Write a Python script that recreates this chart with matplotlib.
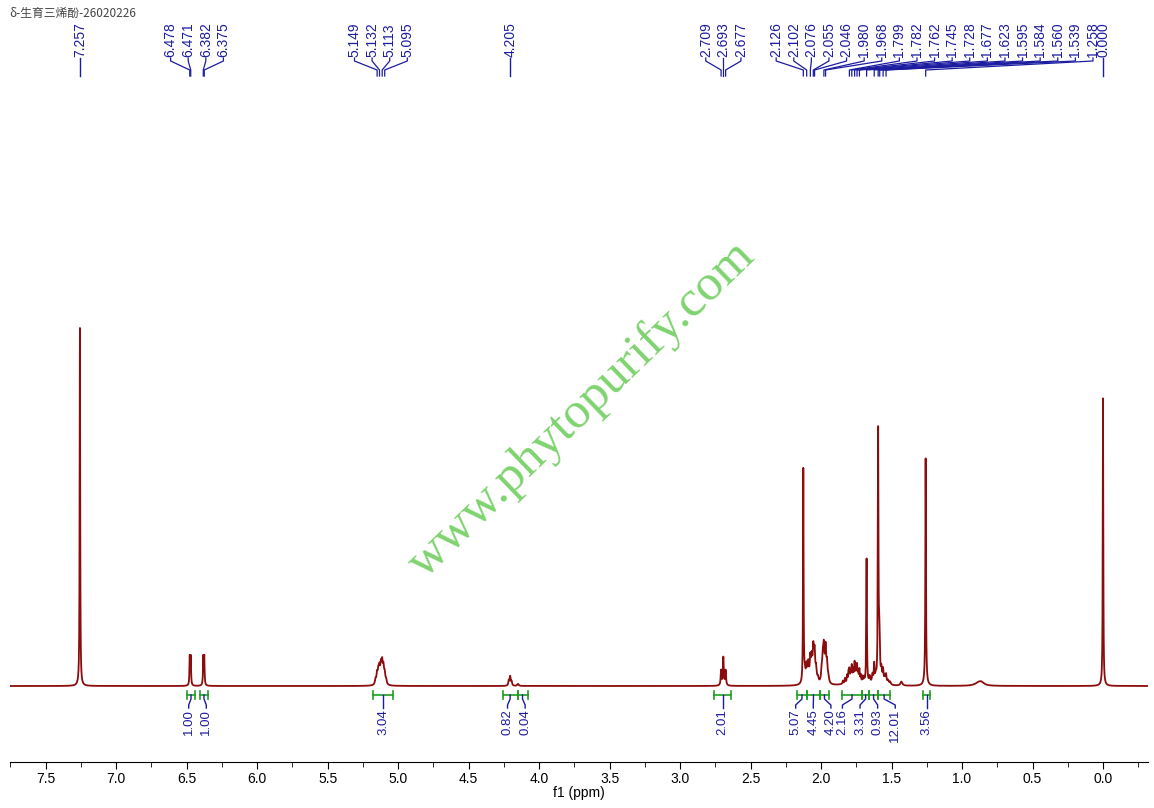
import numpy as np
import matplotlib
matplotlib.use('Agg')
import matplotlib.pyplot as plt
from matplotlib.ticker import MultipleLocator, FormatStrFormatter

plt.rcParams['font.family'] = ['Liberation Sans', 'DejaVu Sans']

# ---- spectrum lines: position (ppm), height, half width (ppm) ----
peak_ppm = [7.257,
            6.478, 6.471, 6.382, 6.375,
            5.160, 5.149, 5.140, 5.132, 5.122, 5.113, 5.104, 5.095, 5.085,
            4.215, 4.205, 4.195, 4.150,
            2.709, 2.693, 2.677,
            2.126,
            2.115, 2.102, 2.090, 2.076, 2.066, 2.055, 2.046, 2.035, 2.022,
            1.995, 1.987, 1.980, 1.968, 1.958, 1.948,
            1.845, 1.830, 1.815, 1.805, 1.799, 1.790, 1.782, 1.772, 1.762, 1.753,
            1.745, 1.737, 1.728, 1.718, 1.705, 1.695, 1.770,
            1.677,
            1.655, 1.635, 1.623, 1.612,
            1.595, 1.588, 1.584, 1.572, 1.560, 1.548, 1.539, 1.525, 1.510,
            1.430,
            1.258, 1.260,
            0.880, 0.860,
            0.000]
peak_height = [358,
               28, 28, 28, 28,
               5, 10, 12, 14, 17, 19, 15, 10, 4,
               5, 9, 4, 2,
               15, 28, 15,
               215,
               10, 16, 18, 23, 21, 31, 28, 13, 5,
               12, 21, 31, 33, 18, 6,
               3, 5, 7, 9, 11, 8, 14, 10, 17, 10,
               15, 9, 12, 7, 6, 5, 5,
               125,
               7, 9, 18, 7,
               250, 35, 28, 14, 13, 7, 9, 4, 3,
               4,
               225, 4,
               3.5, 2,
               290]
peak_hwhm = [0.0022,
             0.0025, 0.0025, 0.0025, 0.0025,
             0.005, 0.005, 0.005, 0.005, 0.005, 0.005, 0.005, 0.005, 0.005,
             0.004, 0.004, 0.004, 0.006,
             0.0035, 0.0035, 0.0035,
             0.0022,
             0.007, 0.005, 0.005, 0.005, 0.005, 0.005, 0.005, 0.005, 0.005,
             0.005, 0.005, 0.005, 0.005, 0.005, 0.005,
             0.003, 0.003, 0.003, 0.003, 0.003, 0.003, 0.003, 0.003, 0.003, 0.003,
             0.003, 0.003, 0.003, 0.003, 0.003, 0.003, 0.05,
             0.0025,
             0.005, 0.005, 0.003, 0.005,
             0.0025, 0.003, 0.003, 0.005, 0.004, 0.004, 0.004, 0.006, 0.006,
             0.008,
             0.0025, 0.01,
             0.03, 0.02,
             0.0022]

# ---- peak picking labels (top) ----
top_groups = [[7.257],
              [6.478, 6.471, 6.382, 6.375],
              [5.149, 5.132, 5.113, 5.095],
              [4.205],
              [2.709, 2.693, 2.677],
              [2.126, 2.102, 2.076, 2.055, 2.046, 1.980, 1.968, 1.799, 1.782,
               1.762, 1.745, 1.728, 1.677, 1.623, 1.595, 1.584, 1.560, 1.539, 1.258],
              [0.000]]

# ---- integrals ----
int_lo = [6.497, 6.405, 5.177, 4.258, 4.153, 2.760, 2.173, 2.098, 2.010, 1.852, 1.709, 1.659, 1.596, 1.276]
int_hi = [6.441, 6.349, 5.035, 4.153, 4.082, 2.637, 2.098, 2.010, 1.942, 1.709, 1.659, 1.596, 1.509, 1.226]
int_val = ['1.00', '1.00', '3.04', '0.82', '0.04', '2.01', '5.07', '4.45', '4.20', '2.16', '3.31', '0.93', '12.01', '3.56']

title = 'δ-生育三烯酚-26020226'
watermark = 'www.phytopurify.com'

W, H = 1154, 808
X_LEFT, X_RIGHT = 7.753, -0.319
AX_L, AX_R, AX_BOT = 10, 1148, 762      # pixel frame of the ppm axis
BASE = 686                               # pixel row of the baseline
SP = 17.6                                # label spacing in px

BLUE = '#1c1ca0'
GREEN = '#1e9e1e'
RED = '#8b0c0c'


def x_px(ppm):
    return AX_L + (X_LEFT - np.asarray(ppm)) / (X_LEFT - X_RIGHT) * (AX_R - AX_L)


fig = plt.figure(figsize=(W / 100, H / 100), dpi=100)
ax = fig.add_axes([AX_L / W, (H - AX_BOT) / H, (AX_R - AX_L) / W, AX_BOT / H])

x = np.arange(X_RIGHT, X_LEFT, 0.0004)
y = np.zeros_like(x)
for p, h, w in zip(peak_ppm, peak_height, peak_hwhm):
    y += h / (1 + ((x - p) / w) ** 2)
ax.plot(x, y, color=RED, lw=1.3)

ax.set_xlim(X_LEFT, X_RIGHT)
ax.set_ylim(-(AX_BOT - BASE), BASE)
for s in ['top', 'left', 'right']:
    ax.spines[s].set_visible(False)
ax.set_yticks([])
ax.xaxis.set_major_locator(MultipleLocator(0.5))
ax.xaxis.set_minor_locator(MultipleLocator(0.25))
ax.xaxis.set_major_formatter(FormatStrFormatter('%.1f'))
ax.tick_params(axis='x', which='major', length=5, labelsize=10, pad=2)
ax.tick_params(axis='x', which='minor', length=3.5)
ax.set_xlabel('f1 (ppm)', fontsize=10, labelpad=0)
ax.patch.set_alpha(0)

# overlay in pixel coordinates for annotations
ov = fig.add_axes([0, 0, 1, 1])
ov.set_xlim(0, W)
ov.set_ylim(H, 0)
ov.axis('off')
ov.patch.set_alpha(0)

ov.text(9, 13, title, fontsize=8.5, color='#444444', va='center', ha='left',
        family=['Noto Sans CJK SC', 'DejaVu Sans'])

# top peak labels
prev_last = -1e9
for grp in top_groups:
    px = x_px(grp)
    n = len(grp)
    if n == 1:
        lab = px.copy()
    else:
        start = px.mean() - (n - 1) / 2 * SP
        if start < prev_last + SP:
            start = prev_last + 2 * SP
        lab = start + np.arange(n) * SP
    prev_last = lab[-1]
    for p, lx, v in zip(px, lab, grp):
        ov.text(lx, 57, f'{v:.3f}', rotation=90, ha='center', va='bottom',
                fontsize=10, color=BLUE)
        if n == 1:
            ov.plot([lx, lx], [58, 76], color=BLUE, lw=1)
        else:
            ov.plot([lx, lx, p, p], [58, 61, 70, 76], color=BLUE, lw=0.9)

# integrals
lo = np.array(int_lo)
hi = np.array(int_hi)
groups = [[0]]
for i in range(1, len(lo)):
    if hi[i - 1] - lo[i] < 0.05:
        groups[-1].append(i)
    else:
        groups.append([i])
for g in groups:
    mids = x_px((lo[g] + hi[g]) / 2)
    labs = mids.mean() + (np.arange(len(g)) - (len(g) - 1) / 2) * SP
    if len(g) == 1:
        labs = mids
    for i, m, lx in zip(g, mids, labs):
        a, b = x_px(lo[i]), x_px(hi[i])
        ov.plot([a, b], [695, 695], color=GREEN, lw=1.2)
        ov.plot([a, a], [691, 699], color=GREEN, lw=1.2)
        ov.plot([b, b], [691, 699], color=GREEN, lw=1.2)
        ov.plot([m, m, lx, lx], [695, 699, 705, 708], color=BLUE, lw=1)
        ov.text(lx, 709, int_val[i], rotation=90, ha='center', va='top',
                fontsize=9.5, color=BLUE)

ov.text(582, 410, watermark, rotation=44, rotation_mode='anchor', ha='center',
        va='center', fontsize=37, family='Liberation Serif', color='#7fd36f')

fig.savefig('out.png', dpi=100)
